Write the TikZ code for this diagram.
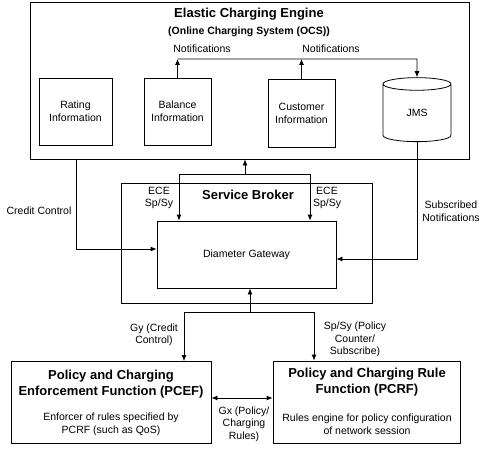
\documentclass[tikz,border=0pt]{standalone}
\usepackage{fontspec}
\setmainfont{Liberation Sans}
\usetikzlibrary{arrows.meta}
\usetikzlibrary{shapes.geometric}
\usetikzlibrary{calc}

\begin{document}
\begin{tikzpicture}[x=1pt,y=-1pt, % Pixelkoordinaten, y nach unten
    >={Latex[length=6pt,width=5pt]},
    line width=0.8pt,
    box/.style={draw, rectangle, inner sep=0pt, align=center, font=\fontsize{10.5}{13}\selectfont},
    lbl/.style={align=center, inner sep=0pt, font=\fontsize{10.5}{12.5}\selectfont},
    titel/.style={align=center, inner sep=0pt, font=\fontsize{13}{16}\selectfont\bfseries}]
    % Rahmen des Bildes
    \useasboundingbox (0,0) rectangle (486,449);
    % Elastic Charging Engine
    \node[box, minimum width=439pt, minimum height=157pt] (ece) at (249.5,80.5) {};
    \node[titel] (eceT) at (249,14) {Elastic Charging Engine};
    \node[titel, font=\fontsize{10.5}{13}\selectfont\bfseries] (eceS) at (249,32) {(Online Charging System (OCS))};
    \node[box, minimum width=73pt, minimum height=67pt] (rating) at (75.5,111.5) {Rating\\Information};
    \node[box, minimum width=67pt, minimum height=67pt] (balance) at (177.5,111.5) {Balance\\Information};
    \node[box, minimum width=67pt, minimum height=68pt] (customer) at (301.5,113) {Customer\\Information};
    \node[box, cylinder, shape border rotate=90, aspect=0.6, minimum width=68pt, minimum height=64pt] (jms) at (417,113) {JMS};
    % Notifications
    \coordinate (nl) at (177.5,59);
    \coordinate (nr) at (417,59);
    \draw[->] (balance.north) -- (nl);
    \draw[->] (customer.north) -- (customer.north |- nl);
    \draw[->] (nl) -- (nr) -- (jms.north);
    \node[lbl] (not1) at (202,49) {Notifications};
    \node[lbl] (not2) at (331,49) {Notifications};
    % Service Broker
    \node[box, minimum width=251pt, minimum height=120pt] (sb) at (246.5,243) {};
    \node[titel] (sbT) at (248,195) {Service Broker};
    \node[box, minimum width=179pt, minimum height=67pt] (dg) at (246.5,254.5) {Diameter Gateway};
    \node[lbl] (spl) at (159,198) {ECE\\Sp/Sy};
    \node[lbl] (spr) at (327,198) {ECE\\Sp/Sy};
    % Verbindungen ECE - Service Broker
    \coordinate (sbl) at (179,174);
    \coordinate (sbm) at (245,174);
    \coordinate (sbr) at (310,174);
    \draw[->] (sbm) -- (sbm |- ece.south);
    \draw[<->] (sbl |- dg.north) -- (sbl) -- (sbr) -- (sbr |- dg.north);
    \coordinate (cc) at (76,249);
    \draw[->] (cc |- ece.south) -- (cc) -- (cc -| dg.west);
    \node[lbl] (ccT) at (39,211) {Credit Control};
    \coordinate (sn) at (417,259);
    \draw[->] (jms.south) -- (sn) -- (sn -| dg.east);
    \node[lbl] (snT) at (451,211) {Subscribed\\Notifications};
    % PCEF und PCRF
    \node[box, minimum width=200pt, minimum height=82pt] (pcef) at (111,402.5) {};
    \node[box, minimum width=187pt, minimum height=82pt] (pcrf) at (366.5,402) {};
    \node[titel] (pcefT) at (111,384) {Policy and Charging\\Enforcement Function (PCEF)};
    \node[lbl] (pcefD) at (111,424.5) {Enforcer of rules specified by\\PCRF (such as QoS)};
    \node[titel] (pcrfT) at (367,382) {Policy and Charging Rule\\Function (PCRF)};
    \node[lbl] (pcrfD) at (367,424) {Rules engine for policy configuration\\of network session};
    % Verbindungen Service Broker - PCEF/PCRF
    \coordinate (gl) at (184,312);
    \coordinate (gm) at (250,312);
    \coordinate (gr) at (314,312);
    \draw[->] (gm) -- (gm |- dg.south);
    \draw[<->] (gl |- pcef.north) -- (gl) -- (gr) -- (gr |- pcrf.north);
    \node[lbl] (gyT) at (154,335) {Gy (Credit\\Control)};
    \node[lbl] (spT) at (355,339.5) {Sp/Sy (Policy\\Counter/\\Subscribe)};
    \coordinate (gx) at (242,398);
    \draw[<->] (gx -| pcef.east) -- (gx -| pcrf.west);
    \node[lbl] (gxT) at (244,424) {Gx (Policy/\\Charging\\Rules)};
\end{tikzpicture}
\end{document}
